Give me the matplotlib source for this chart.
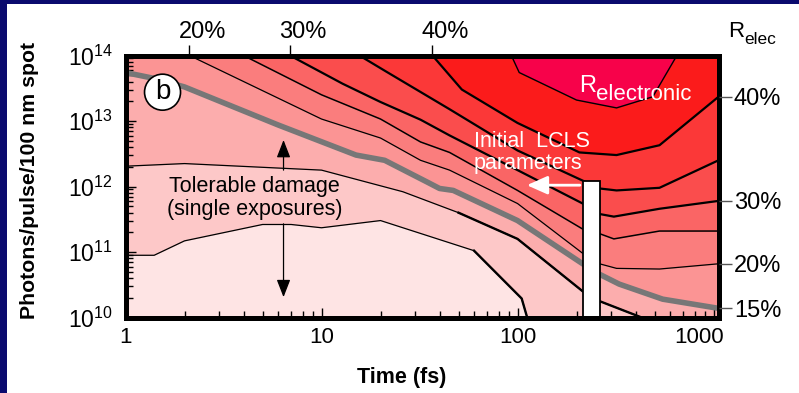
import numpy as np
import matplotlib.pyplot as plt
from matplotlib.patches import Rectangle
from matplotlib.ticker import LogLocator, NullLocator, NullFormatter
from matplotlib.transforms import ScaledTranslation

plt.rcParams['font.family'] = ['Liberation Sans', 'DejaVu Sans']
plt.rcParams['mathtext.fontset'] = 'custom'
plt.rcParams['mathtext.rm'] = 'Liberation Sans'

# contour lines of R: pulse length (fs) and log10(photons/pulse/100 nm spot)
t_r05 = [1, 1.4, 2, 5, 7, 10, 20, 60, 105, 112]
lg_r05 = [10.95, 10.95, 11.17, 11.42, 11.42, 11.37, 11.48, 11.02, 10.29, 10.0]
t_r10 = [1, 2, 10, 26, 50, 100, 215, 262, 430]
lg_r10 = [12.31, 12.35, 12.25, 11.92, 11.6, 11.2, 10.4, 10.25, 10.0]
t_r15 = [1, 1.4, 2, 6, 15, 21, 35, 40, 47, 100, 215, 262, 330, 550, 1060]
lg_r15 = [13.74, 13.65, 13.52, 12.94, 12.48, 12.4, 12.06, 11.97, 11.94, 11.48, 10.82, 10.66, 10.51, 10.28, 10.14]
t_r20 = [2.12, 10, 20, 32, 45, 100, 215, 262, 320, 530, 1060]
lg_r20 = [14.0, 13.03, 12.74, 12.40, 12.25, 11.74, 10.98, 10.82, 10.75, 10.74, 10.82]
t_r25 = [4, 10, 20, 32, 45, 100, 215, 262, 310, 530, 1060]
lg_r25 = [14.0, 13.40, 13.03, 12.68, 12.52, 11.94, 11.35, 11.28, 11.20, 11.32, 11.32]
t_r30 = [6.9, 12.8, 20, 32, 45, 100, 215, 262, 310, 530, 1060]
lg_r30 = [14.0, 13.57, 13.29, 13.02, 12.78, 12.25, 11.74, 11.58, 11.54, 11.66, 11.78]
t_r35 = [15.6, 21.5, 45, 100, 215, 262, 320, 530, 1060]
lg_r35 = [14.0, 13.75, 13.18, 12.55, 12.09, 11.97, 11.94, 11.98, 12.40]
t_r40 = [36.8, 52, 100, 207, 320, 530, 1060]
lg_r40 = [14.0, 13.48, 12.97, 12.52, 12.48, 12.63, 13.37]
t_r45 = [93, 102, 200, 320, 490, 650]
lg_r45 = [14.0, 13.74, 13.32, 13.2, 13.37, 14.0]

top_labels = ['20%', '30%', '40%']
right_labels = ['40%', '30%', '20%', '15%']

# initial LCLS pulse (white bar)
lcls_t = [215, 262]
lcls_lg = 12.09

xlo, xhi = 1, 1060
ylo, yhi = 1e10, 1e14

fig = plt.figure(figsize=(7.99, 3.93), dpi=100)
fig.patch.set_facecolor('white')
navy = '#0a0a6e'
fig.patches.append(Rectangle((0, 1 - 4 / 393), 1, 4 / 393, transform=fig.transFigure, fc=navy, ec='none'))
fig.patches.append(Rectangle((0, 0), 7 / 799, 1, transform=fig.transFigure, fc=navy, ec='none'))

ax = fig.add_axes([125.5 / 799, 1 - 317.5 / 393, 593 / 799, 262 / 393])
ax.set_xscale('log')
ax.set_yscale('log')
ax.set_xlim(xlo, xhi)
ax.set_ylim(ylo, yhi)
ax.set_facecolor('#f7024a')


def closed(t, lg):
    t = list(t)
    y = [10 ** v for v in lg]
    if t[0] > xlo:
        t = [xlo] + t
        y = [yhi] + y
    if t[-1] < xhi:
        t = t + [xhi]
        y = y + [ylo if lg[-1] <= 10 else yhi]
    return t, y


# paint bands from the highest R down
bands = [
    (t_r45, lg_r45, '#fb1b1b'),
    (t_r40, lg_r40, '#fb3838'),
    (t_r35, lg_r35, '#fa4d4d'),
    (t_r30, lg_r30, '#fa6565'),
    (t_r25, lg_r25, '#fa7d7d'),
    (t_r20, lg_r20, '#fb9494'),
    (t_r15, lg_r15, '#fcadad'),
    (t_r10, lg_r10, '#fdc8c8'),
    (t_r05, lg_r05, '#fee4e4'),
]
for t, lg, c in bands:
    tx, ty = closed(t, lg)
    ax.fill_between(tx, ty, ylo, color=c, lw=0, zorder=1)

# contour lines
line_w = [(t_r45, lg_r45, 1.0), (t_r40, lg_r40, 1.6), (t_r35, lg_r35, 1.6),
          (t_r30, lg_r30, 1.6), (t_r25, lg_r25, 1.1), (t_r20, lg_r20, 0.9),
          (t_r10, lg_r10, 0.9), (t_r05, lg_r05, 0.9)]
for t, lg, w in line_w:
    ax.plot(t, [10 ** v for v in lg], color='black', lw=w, zorder=3)
# thicker right-hand parts of the low contours
ax.plot(t_r10[4:], [10 ** v for v in lg_r10[4:]], color='black', lw=1.7, zorder=3)
ax.plot(t_r05[7:], [10 ** v for v in lg_r05[7:]], color='black', lw=1.7, zorder=3)
ax.plot(t_r15, [10 ** v for v in lg_r15], color='#777777', lw=4.0, zorder=3,
        solid_capstyle='butt')

# LCLS bar
ax.add_patch(Rectangle((lcls_t[0], ylo), lcls_t[1] - lcls_t[0], 10 ** lcls_lg - ylo,
                       fc='white', ec='black', lw=1.3, zorder=5))
ax.annotate('', xy=(108, 10 ** 12.02), xytext=(lcls_t[0], 10 ** 12.02),
            arrowprops=dict(arrowstyle='-|>,head_length=0.9,head_width=0.4',
                            mutation_scale=14, color='white', lw=2), zorder=6)
ax.text(60, 10 ** 12.52, 'Initial  LCLS\nparameters', color='white', fontsize=15.5,
        ha='left', va='center', linespacing=1.1, zorder=6)

# R electronic label
ax.text(205, 10 ** 13.45, 'R', color='white', fontsize=17, va='baseline', zorder=6)
ax.annotate('electronic', xy=(205, 10 ** 13.45), xytext=(17, -8), textcoords='offset pixels',
            color='white', fontsize=16, va='baseline', zorder=6)

# tolerable damage
ax.text(4.55, 10 ** 11.82, 'Tolerable damage\n(single exposures)', fontsize=15.5,
        ha='center', va='center', linespacing=1.15, zorder=6)
arrow = dict(arrowstyle='-|>,head_length=0.9,head_width=0.35', mutation_scale=12,
             color='black', lw=0.9, shrinkA=0, shrinkB=0)
ax.annotate('', xy=(6.4, 10 ** 12.71), xytext=(6.4, 10 ** 12.25), arrowprops=arrow, zorder=6)
ax.annotate('', xy=(6.4, 10 ** 10.31), xytext=(6.4, 10 ** 11.43), arrowprops=arrow, zorder=6)

# panel letter
ax.text(1.545, 10 ** 13.44, 'b', fontsize=20, ha='center', va='center', zorder=6,
        bbox=dict(boxstyle='circle,pad=0.18', fc='white', ec='black', lw=1.2))

# axes styling
for s in ax.spines.values():
    s.set_linewidth(3.6)
    s.set_zorder(10)
ax.set_xticks([1, 10, 100, 1000])
ax.set_xticklabels(['1', '10', '100', '1000'])
ax.xaxis.set_minor_locator(LogLocator(base=10, subs=range(2, 10)))
ax.xaxis.set_minor_formatter(NullFormatter())
ax.set_yticks([1e10, 1e11, 1e12, 1e13, 1e14])
ax.set_yticklabels([r'$\mathregular{10^{%d}}$' % k for k in range(10, 15)])
ax.yaxis.set_minor_locator(LogLocator(base=10, subs=range(2, 10)))
ax.yaxis.set_minor_formatter(NullFormatter())
ax.tick_params(which='both', direction='in', top=True, right=False, width=1, zorder=11)
ax.tick_params(which='major', length=7)
ax.tick_params(which='minor', length=5)
ax.tick_params(axis='x', which='major', labelsize=16, pad=7)
ax.tick_params(axis='y', which='major', labelsize=16.5, pad=9)
lab = ax.get_xticklabels()[-1]
lab.set_horizontalalignment('right')
lab.set_transform(lab.get_transform() + ScaledTranslation(10 / 100, 0, fig.dpi_scale_trans))

# R at the top edge
axt = ax.twiny()
axt.set_xscale('log')
axt.set_xlim(xlo, xhi)
axt.set_xticks([t_r20[0], t_r30[0], t_r40[0]])
axt.set_xticklabels(top_labels)
axt.xaxis.set_minor_locator(NullLocator())
axt.tick_params(axis='x', direction='out', length=8, width=1, labelsize=17, pad=1)
for lab in axt.get_xticklabels():
    lab.set_transform(lab.get_transform() + ScaledTranslation(13 / 100, 0, fig.dpi_scale_trans))
for s in axt.spines.values():
    s.set_visible(False)

# R at the right edge
axr = ax.twinx()
axr.set_yscale('log')
axr.set_ylim(ylo, yhi)
axr.set_yticks([10 ** lg_r40[-1], 10 ** lg_r30[-1], 10 ** lg_r20[-1], 10 ** lg_r15[-1]])
axr.set_yticklabels(right_labels)
axr.yaxis.set_minor_locator(NullLocator())
axr.tick_params(axis='y', direction='out', length=9, width=1, color='#555555',
                labelsize=17, pad=2)
for s in axr.spines.values():
    s.set_visible(False)

fig.text(728 / 799, 1 - 37 / 393, 'R', fontsize=16, ha='left', va='baseline')
fig.text(744 / 799, 1 - 44 / 393, 'elec', fontsize=12.5, ha='left', va='baseline')

fig.text(402 / 799, 1 - 377 / 393, 'Time (fs)', fontsize=15.5, fontweight='bold',
         ha='center', va='center')
fig.text(30 / 799, 1 - 180 / 393, 'Photons/pulse/100 nm spot', fontsize=15.3,
         fontweight='bold', rotation=90, ha='center', va='center')

fig.savefig('out.png', dpi=100)
